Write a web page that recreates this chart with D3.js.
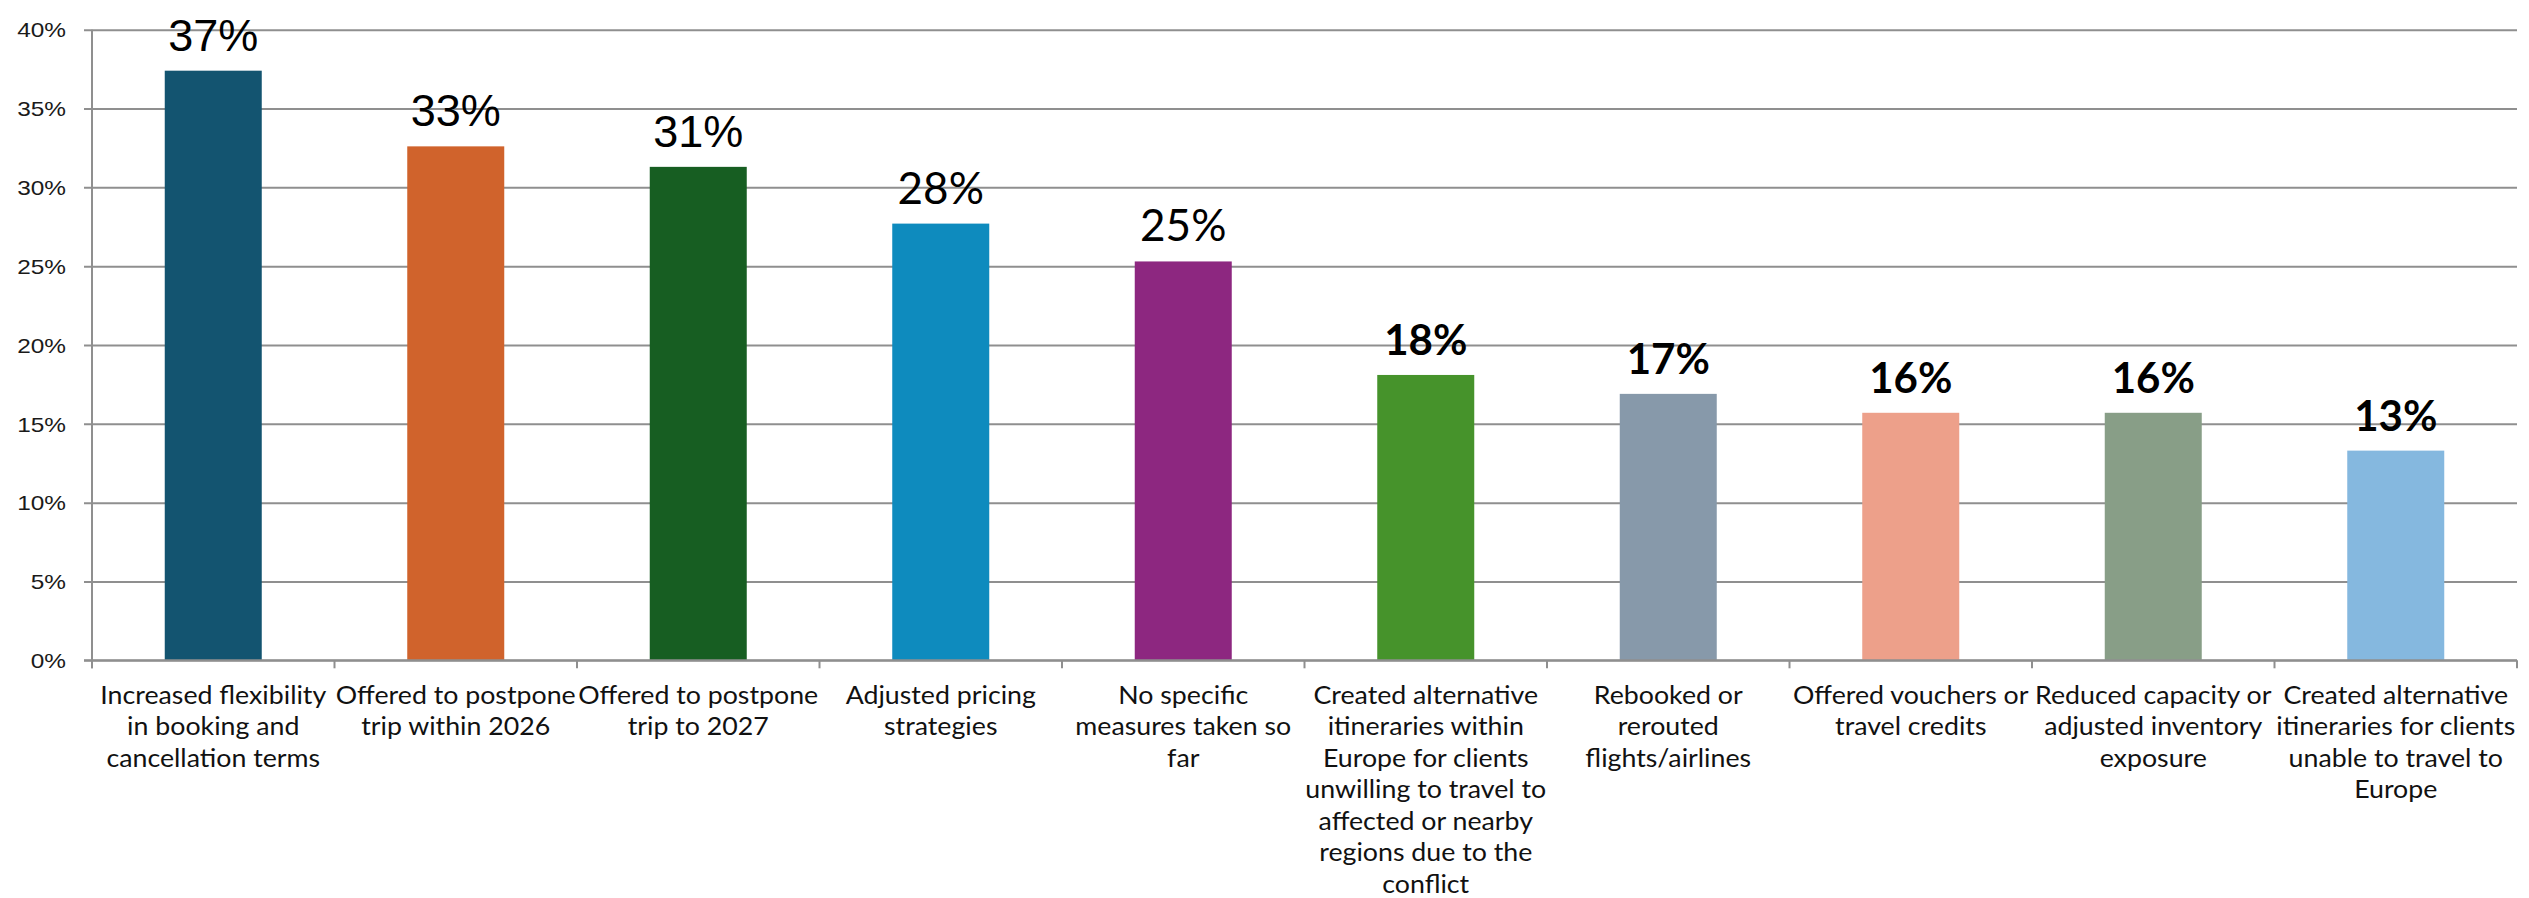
<!DOCTYPE html>
<html>
<head>
<meta charset="utf-8">
<script src="https://cdn.jsdelivr.net/npm/d3@7"></script>
<style>
  html, body { margin: 0; padding: 0; background: #ffffff; }
  svg { display: block; }
</style>
</head>
<body>
<svg id="chart" width="2529" height="898"></svg>
<script>
// Measures taken in response to the conflict (share of respondents)
const categories = [
  "Increased flexibility\nin booking and\ncancellation terms",
  "Offered to postpone\ntrip within 2026",
  "Offered to postpone\ntrip to 2027",
  "Adjusted pricing\nstrategies",
  "No specific\nmeasures taken so\nfar",
  "Created alternative\nitineraries within\nEurope for clients\nunwilling to travel to\naffected or nearby\nregions due to the\nconflict",
  "Rebooked or\nrerouted\nflights/airlines",
  "Offered vouchers or\ntravel credits",
  "Reduced capacity or\nadjusted inventory\nexposure",
  "Created alternative\nitineraries for clients\nunable to travel to\nEurope"
];
const values = [0.374, 0.326, 0.313, 0.277, 0.253, 0.181, 0.169, 0.157, 0.157, 0.133];
const barColors = ["#135470", "#d0632c", "#175e22", "#0e8bbe", "#8d2780",
                   "#46932b", "#8799aa", "#eda08a", "#889e87", "#85b8df"];
const yTicks = [0, 0.05, 0.10, 0.15, 0.20, 0.25, 0.30, 0.35, 0.40];

// Typeface used for each value label
const labelFaces = [
  { family: "'Liberation Sans', Arial, sans-serif", weight: 400, size: 45 },
  { family: "'Liberation Sans', Arial, sans-serif", weight: 400, size: 45 },
  { family: "'Liberation Sans', Arial, sans-serif", weight: 400, size: 45 },
  { family: "Lato, sans-serif", weight: 400, size: 44 },
  { family: "Lato, sans-serif", weight: 400, size: 44 },
  { family: "Lato, sans-serif", weight: 700, size: 42 },
  { family: "Lato, sans-serif", weight: 700, size: 42 },
  { family: "Lato, sans-serif", weight: 700, size: 42 },
  { family: "Lato, sans-serif", weight: 700, size: 42 },
  { family: "Lato, sans-serif", weight: 700, size: 42 }
];

const svg = d3.select("#chart");
const plotLeft = 92, plotRight = 2517, plotTop = 29.7, plotBottom = 660.3;
const gridColor = "#8f8f8f";
const yLabelStretch = 1.22;   // wide-set axis numerals
const xLabelStretch = 1.07;   // wide-set category text

const x = d3.scaleBand()
  .domain(categories)
  .range([plotLeft, plotRight])
  .paddingInner(0.6)
  .paddingOuter(0.3);

const y = d3.scaleLinear()
  .domain([0, 0.40])
  .range([plotBottom, plotTop]);

const step = x.step();
const fmt = d3.format(".0%");

// Horizontal gridlines with y-axis tick labels
const yAxis = d3.axisLeft(y)
  .tickValues(yTicks)
  .tickFormat(fmt)
  .tickSize(-(plotRight - plotLeft))
  .tickPadding(0);

const gy = svg.append("g")
  .attr("transform", `translate(${plotLeft},0)`)
  .call(yAxis);
gy.select(".domain").remove();
gy.selectAll(".tick line")
  .attr("x1", -8)
  .attr("stroke", gridColor)
  .attr("stroke-width", 2);
gy.selectAll(".tick text")
  .attr("x", -26 / yLabelStretch)
  .attr("dy", "0.36em")
  .attr("transform", `scale(${yLabelStretch},1)`)
  .attr("fill", "#1a1a1a")
  .style("font-family", "'Liberation Sans', Arial, sans-serif")
  .style("font-size", "20px");

// Vertical axis line
svg.append("line")
  .attr("x1", plotLeft).attr("x2", plotLeft)
  .attr("y1", plotTop).attr("y2", plotBottom + 8)
  .attr("stroke", gridColor)
  .attr("stroke-width", 2);

// Bars
svg.append("g")
  .selectAll("rect")
  .data(values)
  .join("rect")
  .attr("x", (d, i) => x(categories[i]))
  .attr("width", x.bandwidth())
  .attr("y", d => y(d))
  .attr("height", d => y(0) - y(d))
  .attr("fill", (d, i) => barColors[i]);

// Baseline and category separators
svg.append("line")
  .attr("x1", plotLeft - 8).attr("x2", plotRight)
  .attr("y1", y(0)).attr("y2", y(0))
  .attr("stroke", gridColor)
  .attr("stroke-width", 2);

const boundaries = d3.range(categories.length + 1).map(i => plotLeft + i * step);
svg.append("g")
  .selectAll("line")
  .data(boundaries)
  .join("line")
  .attr("x1", d => d).attr("x2", d => d)
  .attr("y1", y(0)).attr("y2", y(0) + 8)
  .attr("stroke", gridColor)
  .attr("stroke-width", 2);

// Value labels above bars
svg.append("g")
  .selectAll("text")
  .data(values)
  .join("text")
  .attr("x", (d, i) => x(categories[i]) + x.bandwidth() / 2)
  .attr("y", d => y(d) - 20)
  .attr("text-anchor", "middle")
  .attr("fill", "#000000")
  .style("font-family", (d, i) => labelFaces[i].family)
  .style("font-weight", (d, i) => labelFaces[i].weight)
  .style("font-size", (d, i) => labelFaces[i].size + "px")
  .text(d => fmt(d));

// Category labels, wrapped on explicit line breaks
const catLabels = svg.append("g")
  .selectAll("text")
  .data(categories)
  .join("text")
  .attr("transform", d => `translate(${x(d) + x.bandwidth() / 2},0) scale(${xLabelStretch},1)`)
  .attr("text-anchor", "middle")
  .attr("fill", "#111111")
  .style("font-family", "Lato, sans-serif")
  .style("font-size", "25px");

catLabels.each(function(d) {
  const el = d3.select(this);
  d.split("\n").forEach((line, k) => {
    el.append("tspan")
      .attr("x", 0)
      .attr("y", 704 + k * 31.5)
      .text(line);
  });
});
</script>
</body>
</html>
